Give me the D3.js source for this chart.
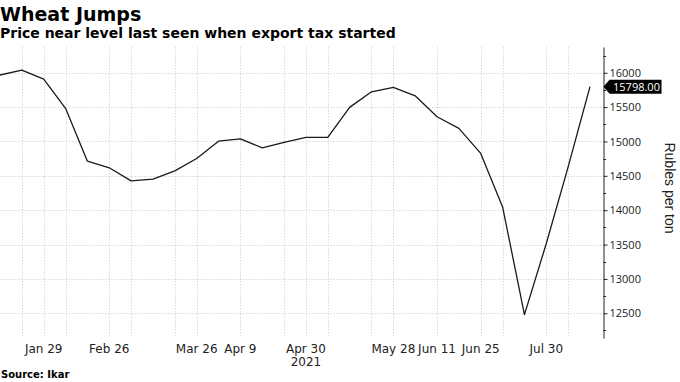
<!DOCTYPE html>
<html>
<head>
<meta charset="utf-8">
<script src="https://cdn.jsdelivr.net/npm/d3@7"></script>
<style>
  html, body { margin: 0; padding: 0; background: #fff; }
  svg { display: block; }
</style>
</head>
<body>
<svg id="chart" width="680" height="382"></svg>
<script>
// ---- data ----
const categories = ["Jan 15","Jan 22","Jan 29","Feb 5","Feb 19","Feb 26","Mar 5","Mar 12","Mar 19","Mar 26",
  "Apr 2","Apr 9","Apr 16","Apr 23","Apr 30","May 7","May 14","May 21","May 28","Jun 4","Jun 11","Jun 18",
  "Jun 25","Jul 9","Jul 16","Jul 30","Aug 6","Aug 13"];
const prices = [15967,16039,15908,15482,14714,14617,14427,14452,14573,14753,15005,15039,14908,14986,15060,
  15060,15496,15723,15787,15665,15360,15190,14826,14048,12481,13515,14631,15798];
const tickLabels = ["Jan 29","Feb 26","Mar 26","Apr 9","Apr 30","May 28","Jun 11","Jun 25","Jul 30"];
const gridCategories = ["Jan 22","Jan 29","Feb 5","Feb 26","Mar 5","Mar 19","Mar 26","Apr 9","Apr 23","Apr 30",
  "May 7","May 21","May 28","Jun 11","Jun 25","Jul 9","Jul 30","Aug 6"];
const yTicks = [12500,13000,13500,14000,14500,15000,15500,16000];
const yMinorTicks = [12250,12750,13250,13750,14250,14750,15250,15750,16250];
const yearLabel = {category: "Apr 30", text: "2021"};
const title = "Wheat Jumps";
const subtitle = "Price near level last seen when export tax started";
const yTitle = "Rubles per ton";
const source = "Source: Ikar";

// ---- layout ----
const svg = d3.select("#chart");
const plot = {left: 0, right: 603, top: 47, bottom: 338};

const x = d3.scalePoint().domain(categories).range([0, 590]);
const y = d3.scaleLinear().domain([12140, 16375]).range([plot.bottom, plot.top]);

// gridlines
const grid = svg.append("g").attr("stroke", "#d9d9d9").attr("stroke-width", 1).attr("stroke-dasharray", "1.5,1.5");
grid.selectAll("line.h").data(yTicks).join("line")
  .attr("x1", plot.left).attr("x2", plot.right)
  .attr("y1", d => Math.round(y(d)) + 0.5).attr("y2", d => Math.round(y(d)) + 0.5);
grid.selectAll("line.v").data(gridCategories).join("line")
  .attr("x1", d => Math.round(x(d)) + 0.5).attr("x2", d => Math.round(x(d)) + 0.5)
  .attr("y1", plot.top).attr("y2", plot.bottom);

// line
const line = d3.line().x((d, i) => x(categories[i])).y(d => y(d));
svg.append("path").datum(prices)
  .attr("d", line)
  .attr("fill", "none")
  .attr("stroke", "#1a1a1a")
  .attr("stroke-width", 1.3)
  .attr("stroke-linejoin", "round");

// right axis
const yAxis = d3.axisRight(y).tickValues(yTicks).tickSize(4).tickSizeOuter(0).tickPadding(2)
  .tickFormat(d3.format("d"));
const ya = svg.append("g").attr("transform", `translate(${plot.right + 0.5},0)`).call(yAxis);
ya.select(".domain").attr("stroke", "#222");
ya.selectAll(".tick line").attr("stroke", "#222");
ya.selectAll(".tick text").attr("font-family", "'Open Sans', sans-serif").attr("font-size", 11).attr("fill", "#222");
const minor = svg.append("g").attr("transform", `translate(${plot.right + 0.5},0)`);
minor.selectAll("line").data(yMinorTicks).join("line")
  .attr("x1", 0).attr("x2", 2.5)
  .attr("y1", d => Math.round(y(d)) + 0.5).attr("y2", d => Math.round(y(d)) + 0.5)
  .attr("stroke", "#222");

// x labels
svg.append("g").selectAll("text").data(tickLabels).join("text")
  .attr("x", d => x(d)).attr("y", 353)
  .attr("text-anchor", "middle")
  .attr("font-family", "'DejaVu Sans', sans-serif").attr("font-size", 12).attr("fill", "#222")
  .text(d => d);
svg.append("text").attr("x", x(yearLabel.category)).attr("y", 366)
  .attr("text-anchor", "middle")
  .attr("font-family", "'DejaVu Sans', sans-serif").attr("font-size", 12).attr("fill", "#222")
  .text(yearLabel.text);

// last value label
const last = prices[prices.length - 1];
const ly = y(last);
const lx = plot.right + 0.5;
svg.append("path")
  .attr("d", `M${lx},${ly} L${lx + 6},${ly - 7} L${lx + 58},${ly - 7} L${lx + 58},${ly + 7} L${lx + 6},${ly + 7} Z`)
  .attr("fill", "#000");
svg.append("text").attr("x", lx + 33).attr("y", ly + 4)
  .attr("text-anchor", "middle")
  .attr("font-family", "'Open Sans', sans-serif").attr("font-size", 11).attr("fill", "#fff")
  .text(d3.format(".2f")(last));

// y title
svg.append("text")
  .attr("transform", `translate(665,188) rotate(90)`)
  .attr("text-anchor", "middle")
  .attr("font-family", "'Liberation Sans', sans-serif").attr("font-size", 14).attr("fill", "#222")
  .text(yTitle);

// titles
svg.append("text").attr("x", 0).attr("y", 21)
  .attr("font-family", "'DejaVu Sans', sans-serif").attr("font-weight", "bold").attr("font-size", 19).attr("fill", "#000")
  .text(title);
svg.append("text").attr("x", 0).attr("y", 38)
  .attr("font-family", "'DejaVu Sans', sans-serif").attr("font-weight", "bold").attr("font-size", 14).attr("fill", "#000")
  .text(subtitle);
svg.append("text").attr("x", 1).attr("y", 378)
  .attr("font-family", "'DejaVu Sans', sans-serif").attr("font-weight", "bold").attr("font-size", 10).attr("fill", "#000")
  .text(source);
</script>
</body>
</html>
